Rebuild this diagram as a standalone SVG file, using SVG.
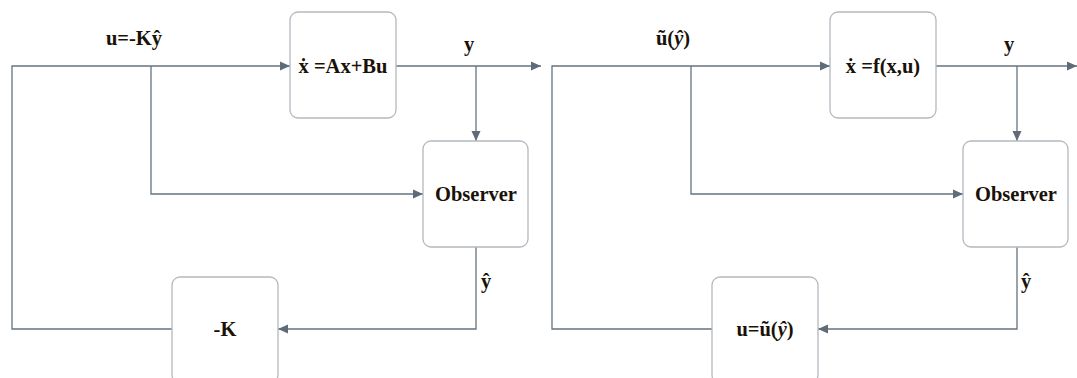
<svg xmlns="http://www.w3.org/2000/svg" width="1077" height="378" viewBox="0 0 1077 378">
<style>
.box{fill:#fff;stroke:#b3b9c0;stroke-width:1.3}
.ln{fill:none;stroke:#66737f;stroke-width:1.3}
.t{font-family:"Liberation Serif","Times New Roman",serif;font-weight:bold;font-size:20.5px;fill:#1a1208;text-anchor:middle}
.i{font-style:italic}
</style>
<defs>
<marker id="ah" viewBox="0 0 10 10" refX="10" refY="5" markerWidth="10" markerHeight="10" markerUnits="userSpaceOnUse" orient="auto">
<path d="M0,0.5 L10,5 L0,9.5 Z" fill="#5f6b78"/>
</marker>
</defs>
<rect width="1077" height="378" fill="#fff"/>
<g id="connectors">
<path class="ln" d="M172,329 H12 V66 H290" marker-end="url(#ah)"/>
<path class="ln" d="M151,66 V194 H423" marker-end="url(#ah)"/>
<path class="ln" d="M396,66 H541" marker-end="url(#ah)"/>
<path class="ln" d="M476,66 V141" marker-end="url(#ah)"/>
<path class="ln" d="M476,247 V329 H278" marker-end="url(#ah)"/>
<path class="ln" d="M712,329 H552 V66 H830" marker-end="url(#ah)"/>
<path class="ln" d="M691,66 V194 H963" marker-end="url(#ah)"/>
<path class="ln" d="M936,66 H1077" marker-end="url(#ah)"/>
<path class="ln" d="M1017,66 V141" marker-end="url(#ah)"/>
<path class="ln" d="M1017,247 V329 H818" marker-end="url(#ah)"/>
</g>
<g id="labels">
<text class="t" x="134" y="45">u=-Kŷ</text>
<text class="t" x="469" y="51">y</text>
<text class="t" x="486" y="288">ŷ</text>
<text class="t" x="673" y="45">ũ(<tspan class="i">ŷ</tspan>)</text>
<text class="t" x="1009" y="51">y</text>
<text class="t" x="1026" y="288">ŷ</text>
</g>
<g id="plant1"><rect class="box" x="290" y="12" width="106" height="106" rx="8"/><text class="t" x="343" y="73">ẋ =Ax+Bu</text></g>
<g id="observer1"><rect class="box" x="423" y="141" width="105" height="106" rx="8"/><text class="t" x="476" y="201">Observer</text></g>
<g id="gain1"><rect class="box" x="172" y="277" width="106" height="106" rx="8"/><text class="t" x="225" y="336">-K</text></g>
<g id="plant2"><rect class="box" x="830" y="12" width="106" height="106" rx="8"/><text class="t" x="883" y="73">ẋ =f(x,u)</text></g>
<g id="observer2"><rect class="box" x="963" y="141" width="105" height="106" rx="8"/><text class="t" x="1016" y="201">Observer</text></g>
<g id="control2"><rect class="box" x="712" y="277" width="106" height="106" rx="8"/><text class="t" x="765" y="336">u=ũ(<tspan class="i">ŷ</tspan>)</text></g>
</svg>
